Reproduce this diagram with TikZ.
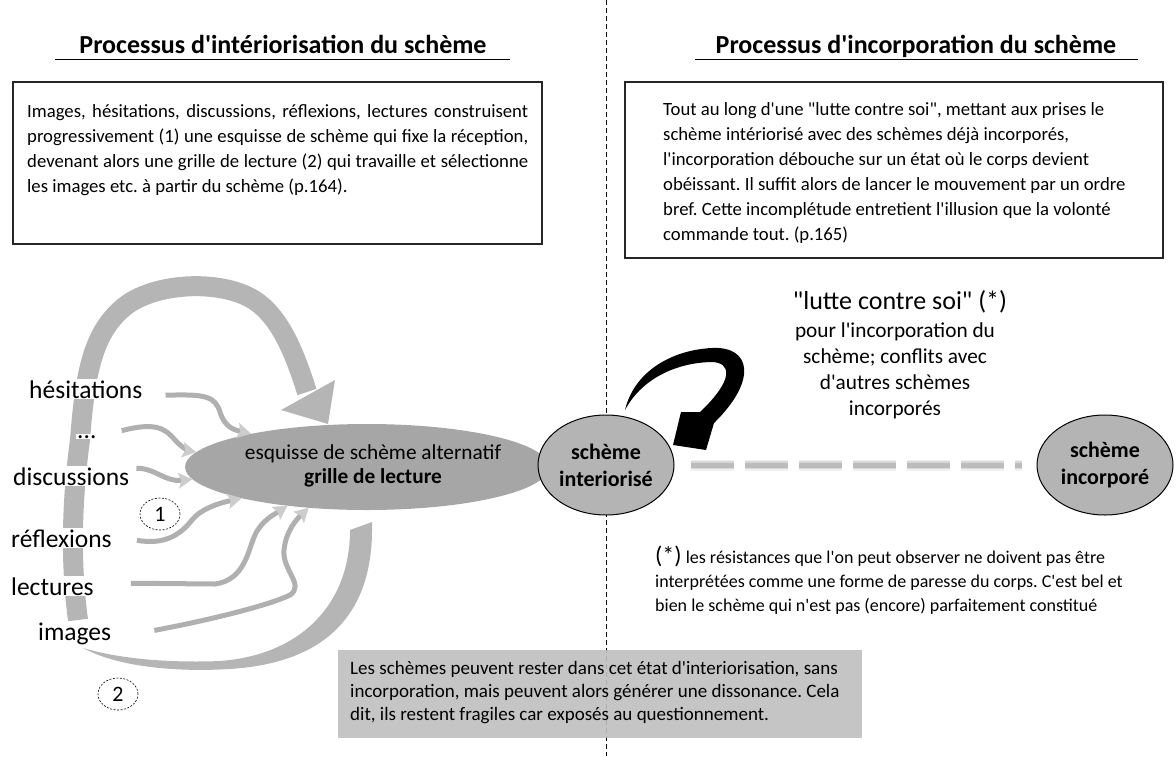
\documentclass[tikz,border=0pt]{standalone}
\usepackage{fontspec}
\setmainfont{Carlito}[Ligatures=TeXOff]
\usetikzlibrary{arrows.meta,shapes.geometric}
\definecolor{band}{RGB}{181,181,181}
\definecolor{bigell}{RGB}{166,166,166}
\definecolor{smell}{RGB}{180,180,180}
\definecolor{wave}{RGB}{176,176,176}
\definecolor{wavehead}{RGB}{204,204,204}
\definecolor{boxgray}{RGB}{191,191,191}
\definecolor{dashgray}{RGB}{185,185,185}
\frenchspacing
\begin{document}
\begin{tikzpicture}[x=1pt,y=-1pt,
  lab/.style={font=\fontsize{25.5}{28}\selectfont, fill=white, inner sep=1pt, anchor=base west},
  bodytxt/.style={font=\fontsize{18.7}{25}\selectfont, align=left, inner sep=0pt, anchor=north west},
  ttl/.style={font=\bfseries\fontsize{26}{30}\selectfont, inner sep=0pt, anchor=base},
  txtbox/.style={draw=black!85, line width=1.1pt, rectangle, inner sep=0pt},
  wavy/.style={draw=wave, line width=5pt, -{Stealth[length=14pt,width=16pt,inset=3pt,line width=0pt,color=wavehead]}},
  schema/.style={ellipse, draw=black, line width=1pt, fill=smell, inner sep=0pt, minimum width=136pt, minimum height=100pt, align=center, font=\bfseries\fontsize{22}{27}\selectfont},
  numc/.style={ellipse, draw=black, dash pattern=on 2pt off 1.5pt, line width=0.6pt, minimum width=40pt, minimum height=32pt, inner sep=0pt, font=\fontsize{22}{24}\selectfont},
]
\useasboundingbox (0,0) rectangle (1176,756);

% divider
\draw[line width=0.9pt, dash pattern=on 5pt off 3pt] (606,0) -- (606,756);

% titles
\node[ttl] (ltitle) at (283,53) {Processus d'intériorisation du schème};
\draw[line width=1pt] (55,59) -- (510,59);
\node[ttl] (rtitle) at (916,53) {Processus d'incorporation du schème};
\draw[line width=1pt] (695,59) -- (1138,59);

% text boxes
\node[txtbox, minimum width=529pt, minimum height=162pt] (lbox) at (277.5,163) {};
\node[bodytxt] (ltext) at (27,104) {\makebox[501pt][s]{Images, hésitations, discussions, réflexions, lectures construisent}\\
\makebox[501pt][s]{progressivement (1) une esquisse de schème qui fixe la réception,}\\
\makebox[501pt][s]{devenant alors une grille de lecture (2) qui travaille et sélectionne}\\
les images etc. à partir du schème (p.164).};

\node[txtbox, minimum width=538pt, minimum height=176pt] (rbox) at (894,170) {};
\node[bodytxt] (rtext) at (663,102) {Tout au long d'une "lutte contre soi", mettant aux prises le\\
schème intériorisé avec des schèmes déjà incorporés,\\
l'incorporation débouche sur un état où le corps devient\\
obéissant. Il suffit alors de lancer le mouvement par un ordre\\
bref. Cette incomplétude entretient l'illusion que la volonté\\
commande tout. (p.165)};

% big gray bands
\draw[draw=band, line width=20pt] (78,620) .. controls (70,560) and (72,500) .. (80,440)
  .. controls (85,375) and (92,330) .. (128,304) .. controls (160,282) and (222,280) .. (254,300)
  .. controls (282,318) and (296,358) .. (307,392);
\fill[band] (281,410) -- (335,380) -- (328,424) -- cycle;
\fill[band] (350,530) -- (372,522) .. controls (374,600) and (340,662) .. (230,669)
  .. controls (180,672) and (120,668) .. (83,648) .. controls (120,659) and (170,663) .. (220,661)
  .. controls (300,655) and (350,605) .. (350,530) -- cycle;

% main ellipse
\node[ellipse, fill=bigell, minimum width=364pt, minimum height=86pt, inner sep=0pt] (esq) at (367,467) {};
\node[font=\fontsize{21.3}{24}\selectfont, align=center, inner sep=0pt] (esqtxt) at (373,466) {esquisse de schème alternatif\\\textbf{grille de lecture}};

% schema ellipses
\node[schema] (si) at (606,465) {schème\\interiorisé};
\node[schema] (sinc) at (1105,465) {schème\\incorporé};

% blurred dashed link
\foreach \w/\o in {11/0.2,8/0.45,5/0.9}
  \draw[draw=dashgray, line width=\w pt, opacity=\o, dash pattern=on 43pt off 11pt, shorten <=16pt, shorten >=15pt] (si.east) -- (sinc.west);

% labels
\node[lab] (hes) at (28,398) {hésitations};
\node[lab] (dots) at (76,438) {...};
\node[lab] (disc) at (12,485) {discussions};
\node[lab] (refl) at (10,547) {réflexions};
\node[lab] (lect) at (10,595) {lectures};
\node[lab] (img) at (37,640) {images};

\node[numc] (c1) at (160,514) {1};
\node[numc] (c2) at (118,694) {2};

% wavy arrows
\draw[wavy] ([shift={(22,6)}]hes.east) .. controls (205,394) and (215,396) .. (220,412) .. controls (225,428) and (235,430) .. (esq.164);
\draw[wavy] ([shift={(24,-6)}]dots.east) .. controls (155,422) and (165,428) .. (175,440) .. controls (182,448) and (190,451) .. (esq.175);
\draw[wavy] ([shift={(6,-8)}]disc.east) .. controls (155,468) and (165,482) .. (esq.184);
\draw[wavy] ([shift={(24,2)}]refl.east) .. controls (165,545) and (180,535) .. (192,520) .. controls (200,510) and (215,504) .. (esq.194);
\draw[wavy] ([shift={(36,-3)}]lect.east) -- (215,584) .. controls (245,580) and (248,550) .. (255,535) .. controls (262,520) and (275,514) .. (esq.206);
\draw[wavy] ([shift={(42,-3)}]img.east) .. controls (210,620) and (270,605) .. (290,595) .. controls (305,585) and (282,570) .. (284,550) .. controls (286,530) and (298,518) .. (esq.215);

% black self arrow
\fill[black] (625,410) .. controls (634,372) and (671,350) .. (712,348)
  .. controls (751,346) and (758,380) .. (714,423) -- (706,450) -- (673,445) -- (681,412) -- (700,412)
  .. controls (734,380) and (732,362) .. (711,362) .. controls (674,363) and (641,380) .. (625,410) -- cycle;

% lutte text
\node[font=\fontsize{26}{30}\selectfont, inner sep=0pt] (lutte) at (900,302) {"lutte contre soi" (*)};
\node[font=\fontsize{21.3}{26}\selectfont, align=center, inner sep=0pt] (luttetxt) at (895,371) {pour l'incorporation du\\schème; conflits avec\\d'autres schèmes\\incorporés};

% footnote
\node[bodytxt, font=\fontsize{18}{24}\selectfont] (fn) at (655,546) {{\fontsize{24}{24}\selectfont(*)} les résistances que l'on peut observer ne doivent pas être\\
interprétées comme une forme de paresse du corps. C'est bel et\\
bien le schème qui n'est pas (encore) parfaitement constitué};

% bottom box
\node[fill=boxgray, fill opacity=0.9, minimum width=524pt, minimum height=88pt, inner sep=0pt] (gbox) at (600,694) {};
\node[anchor=west, inner sep=0pt, align=left, font=\fontsize{19}{23}\selectfont] (gtext) at (350,693) {Les schèmes peuvent rester dans cet état d'interiorisation, sans\\
incorporation, mais peuvent alors générer une dissonance. Cela\\
dit, ils restent fragiles car exposés au questionnement.};
\end{tikzpicture}
\end{document}
